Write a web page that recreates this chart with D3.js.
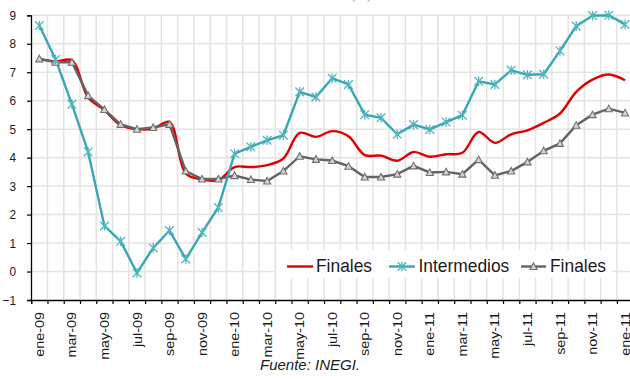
<!DOCTYPE html>
<html>
<head>
<meta charset="utf-8">
<script src="https://cdn.jsdelivr.net/npm/d3@7/dist/d3.min.js"></script>
<style>
  body { margin: 0; background: #fff; }
  svg { display: block; }
  text { font-family: "Liberation Sans", Arial, sans-serif; fill: #1a1a1a; }
</style>
</head>
<body>
<svg id="chart" width="630" height="379"></svg>
<script>
// Monthly categories, January 2009 to January 2012
const categorias = [
  "ene-09","feb-09","mar-09","abr-09","may-09","jun-09","jul-09","ago-09","sep-09","oct-09","nov-09","dic-09",
  "ene-10","feb-10","mar-10","abr-10","may-10","jun-10","jul-10","ago-10","sep-10","oct-10","nov-10","dic-10",
  "ene-11","feb-11","mar-11","abr-11","may-11","jun-11","jul-11","ago-11","sep-11","oct-11","nov-11","dic-11",
  "ene-12"
];
// Labels printed on the x axis (every second month)
const etiquetasX = [
  "ene-09","mar-09","may-09","jul-09","sep-09","nov-09",
  "ene-10","mar-10","may-10","jul-10","sep-10","nov-10",
  "ene-11","mar-11","may-11","jul-11","sep-11","nov-11","ene-11"
];
const ticksY = [-1, 0, 1, 2, 3, 4, 5, 6, 7, 8, 9];

// Series values (annual % change)
const finalesSuave = [
  7.47, 7.38, 7.42, 6.11, 5.67, 5.14, 5.00, 5.02, 5.25, 3.44, 3.24, 3.21,
  3.67, 3.67, 3.74, 3.97, 4.87, 4.73, 4.93, 4.75, 4.09, 4.07, 3.89, 4.20,
  4.03, 4.12, 4.17, 4.90, 4.52, 4.82, 4.96, 5.22, 5.55, 6.31, 6.74, 6.92,
  6.72
];
const intermedios = [
  8.64, 7.45, 5.88, 4.20, 1.60, 1.06, -0.05, 0.83, 1.44, 0.44, 1.37, 2.25,
  4.14, 4.38, 4.61, 4.79, 6.31, 6.13, 6.79, 6.57, 5.51, 5.40, 4.82, 5.16,
  4.99, 5.25, 5.49, 6.68, 6.57, 7.07, 6.91, 6.93, 7.75, 8.62, 8.99, 9.00,
  8.68
];
const finales = [
  7.47, 7.35, 7.35, 6.18, 5.69, 5.17, 5.00, 5.06, 5.17, 3.53, 3.25, 3.25,
  3.37, 3.23, 3.18, 3.53, 4.05, 3.94, 3.90, 3.70, 3.32, 3.32, 3.42, 3.71,
  3.48, 3.50, 3.42, 3.93, 3.38, 3.53, 3.85, 4.24, 4.50, 5.14, 5.51, 5.72,
  5.57
];

const colores = { rojo: "#e00000", turquesa: "#38a6b4", gris: "#636363" };

const svg = d3.select("#chart");

const x = d3.scaleBand()
  .domain(d3.range(categorias.length))
  .range([31.2, 31.2 + 16.27 * categorias.length])
  .padding(0);
const xc = i => x(i) + x.bandwidth() / 2;
const xBorde = d3.scaleLinear()
  .domain([0, categorias.length])
  .range(x.range());

const y = d3.scaleLinear().domain([-1, 9]).range([300, 15.3]);

// Gridlines
const rejilla = svg.append("g").attr("stroke", "#e3e3e3").attr("stroke-width", 1.5);
rejilla.selectAll("line.h").data(ticksY.filter(v => v > -1)).join("line")
  .attr("x1", 31).attr("x2", 630)
  .attr("y1", d => y(d)).attr("y2", d => y(d));
rejilla.selectAll("line.v").data(d3.range(1, categorias.length + 1)).join("line")
  .attr("x1", d => xBorde(d)).attr("x2", d => xBorde(d))
  .attr("y1", y(9)).attr("y2", y(-1));

// Title, sitting just above the top edge of the page
svg.append("text")
  .attr("x", 315).attr("y", -0.6)
  .attr("text-anchor", "middle")
  .attr("font-size", 13)
  .style("fill", "#b0b0b0")
  .text("Variación anual (%)");

// Y axis
const ejeY = svg.append("g")
  .attr("transform", "translate(31,0)")
  .call(d3.axisLeft(y).tickValues(ticksY).tickSize(4).tickPadding(11).tickFormat(d3.format("d")));
ejeY.select(".domain").attr("stroke", "#000").attr("stroke-width", 1.3);
ejeY.selectAll(".tick line").attr("stroke", "#000").attr("stroke-width", 1.2);
ejeY.selectAll(".tick text")
  .attr("font-size", 11.8)
  .attr("font-family", null)
  .style("fill", "#1a1a1a")
  .attr("dy", null)
  .attr("y", 0)
  .attr("transform", "translate(0,4.2) scale(1,1.1)");

// X axis: month boundaries as ticks
const ejeX = svg.append("g")
  .attr("transform", `translate(0,${y(-1)})`)
  .call(d3.axisBottom(xBorde).tickValues(d3.range(categorias.length + 1)).tickSize(4).tickFormat(""));
ejeX.select(".domain").attr("stroke", "#000").attr("stroke-width", 1.3);
ejeX.selectAll(".tick line").attr("stroke", "#000").attr("stroke-width", 1.2);

// Rotated month labels
const indicesEtiqueta = d3.range(0, categorias.length, 2);
svg.append("g").selectAll("text").data(indicesEtiqueta).join("text")
  .attr("transform", d => `translate(${xc(d)},312) scale(1,1.14) rotate(-90)`)
  .attr("text-anchor", "end")
  .attr("dy", "0.36em")
  .attr("font-size", 12.6)
  .text((d, i) => etiquetasX[i]);

// Series lines
const lineaRecta = d3.line().x((d, i) => xc(i)).y(d => y(d));
const lineaSuave = d3.line().x((d, i) => xc(i)).y(d => y(d)).curve(d3.curveCatmullRom.alpha(0.5));

svg.append("path").datum(finalesSuave)
  .attr("d", lineaSuave).attr("fill", "none")
  .attr("stroke", colores.rojo).attr("stroke-width", 2.4);

svg.append("path").datum(finales)
  .attr("d", lineaRecta).attr("fill", "none")
  .attr("stroke", colores.gris).attr("stroke-width", 2.4);

svg.append("path").datum(intermedios)
  .attr("d", lineaRecta).attr("fill", "none")
  .attr("stroke", colores.turquesa).attr("stroke-width", 2.4);

// Markers
function triangulo(g, cx, cy) {
  g.append("path")
    .attr("d", `M${cx - 3.6},${cy + 3}L${cx + 3.6},${cy + 3}L${cx},${cy - 3.6}Z`)
    .attr("fill", "#d4d4d4").attr("stroke", "#6f6f6f").attr("stroke-width", 1.1);
}
function asterisco(g, cx, cy) {
  const r = 4.3;
  g.append("path")
    .attr("d", `M${cx - r},${cy - r}L${cx + r},${cy + r}M${cx - r},${cy + r}L${cx + r},${cy - r}M${cx},${cy - r - 0.5}L${cx},${cy + r + 0.5}`)
    .attr("stroke", "#4fb5c2").attr("stroke-width", 1.3).attr("fill", "none");
}
const marcasGris = svg.append("g");
finales.forEach((v, i) => triangulo(marcasGris, xc(i), y(v)));
const marcasTurquesa = svg.append("g");
intermedios.forEach((v, i) => asterisco(marcasTurquesa, xc(i), y(v)));

// Legend
const leyenda = svg.append("g");
leyenda.append("rect")
  .attr("x", 276).attr("y", 250).attr("width", 336).attr("height", 28)
  .attr("fill", "#fff");
const itemsLeyenda = [
  { nombre: "Finales", color: colores.rojo, x1: 287, x2: 313, tx: 316, marca: null },
  { nombre: "Intermedios", color: colores.turquesa, x1: 389, x2: 415, tx: 418.5, marca: "asterisco" },
  { nombre: "Finales", color: colores.gris, x1: 521, x2: 546, tx: 550, marca: "triangulo" }
];
itemsLeyenda.forEach(it => {
  leyenda.append("line")
    .attr("x1", it.x1).attr("x2", it.x2).attr("y1", 266.5).attr("y2", 266.5)
    .attr("stroke", it.color).attr("stroke-width", 2.4);
  const cx = (it.x1 + it.x2) / 2;
  if (it.marca === "asterisco") asterisco(leyenda, cx, 266.5);
  if (it.marca === "triangulo") triangulo(leyenda, cx, 266.5);
  leyenda.append("text")
    .attr("transform", `translate(${it.tx},272.3) scale(1,1.07)`)
    .attr("font-size", 17.4)
    .text(it.nombre);
});

// Source note
svg.append("text")
  .attr("x", 310).attr("y", 369.5)
  .attr("text-anchor", "middle")
  .attr("font-size", 15)
  .attr("font-style", "italic")
  .text("Fuente: INEGI.");
</script>
</body>
</html>
